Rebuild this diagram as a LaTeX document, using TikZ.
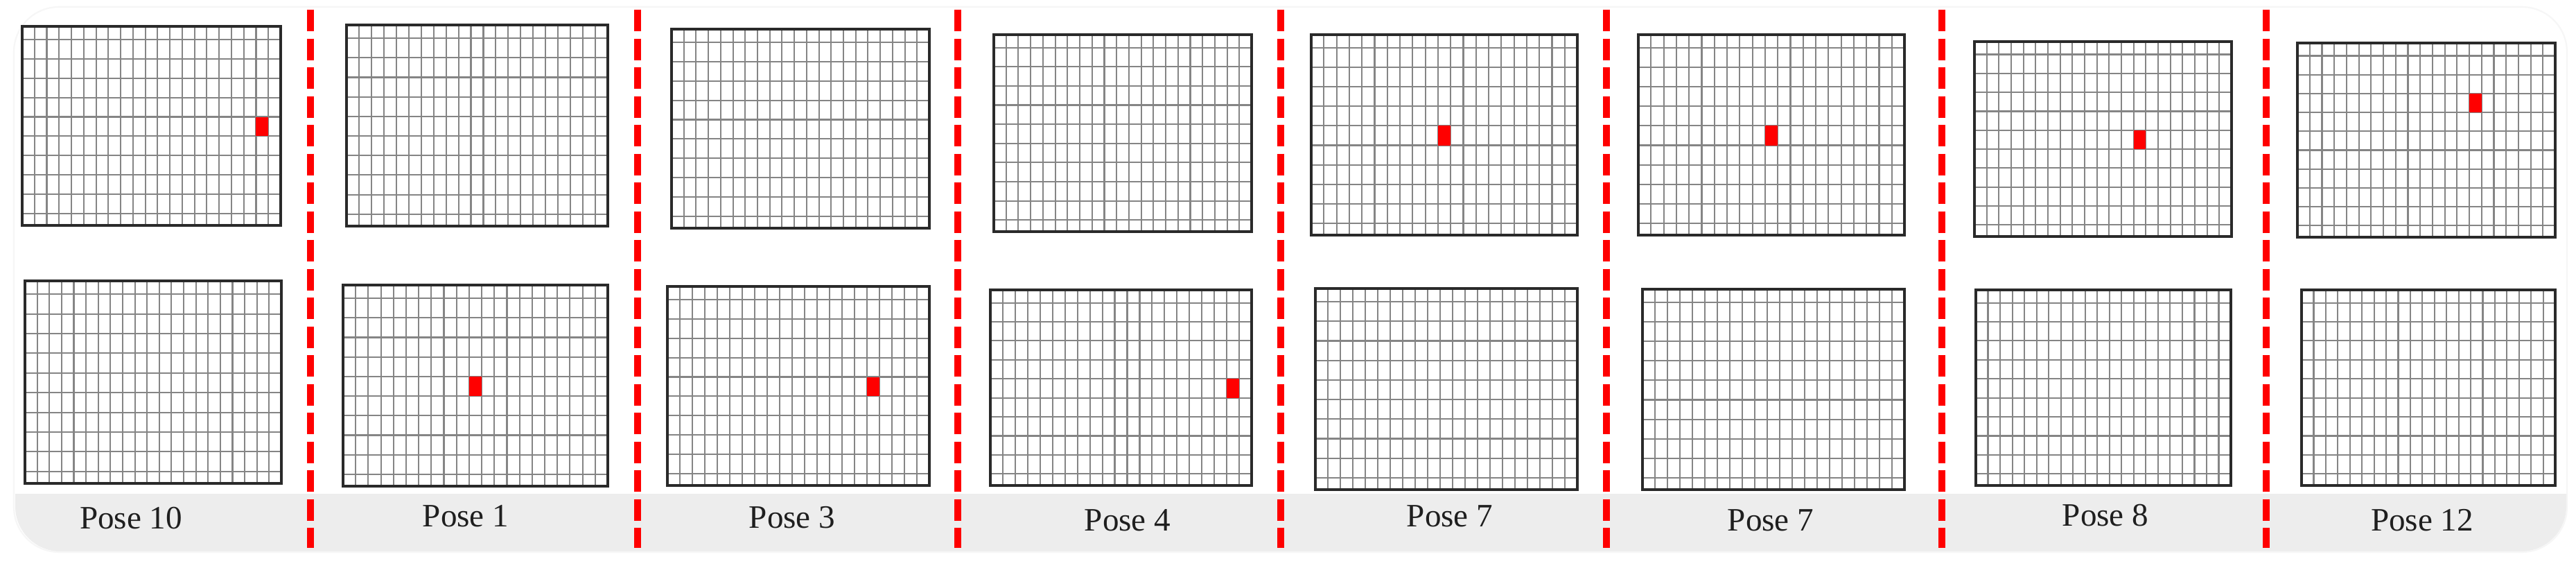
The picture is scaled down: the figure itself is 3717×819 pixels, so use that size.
\documentclass[tikz,border=0pt]{standalone}
\usepackage{fontspec}
\setmainfont{Liberation Serif}
\usetikzlibrary{fit}
\definecolor{bandgray}{HTML}{EDEDED}
\definecolor{gridgray}{HTML}{858585}
\definecolor{framegray}{HTML}{2A2A2A}
\definecolor{redcell}{HTML}{FF0000}
\definecolor{outergray}{HTML}{F6F6F6}
\tikzset{
  gridline/.style={draw=gridgray, line width=0.6pt},
  gridframe/.style={draw=framegray, line width=0.95pt, rectangle, inner sep=0pt},
  cellmark/.style={fill=redcell, draw=none},
  sepline/.style={draw=redcell, line width=2.8pt, dash pattern=on 0.31cm off 0.105cm},
  poselabel/.style={anchor=base, font=\fontsize{13.4}{15}\selectfont, text=black!88, inner sep=0pt},
}
% #1 name, #2 x1, #3 y1, #4 x2, #5 y2
\newcommand\posegrid[5]{%
  \pgfmathsetmacro\gw{(#4-#2)/21}%
  \pgfmathsetmacro\gh{#5-#3}%
  \foreach \k in {1,...,20}{\draw[gridline] ({#2+\k*\gw},#3) -- ({#2+\k*\gw},#5);}%
  \foreach \k in {0,...,9}{\draw[gridline] (#2,{#3+\gh*(0.066+\k*0.0972)}) -- (#4,{#3+\gh*(0.066+\k*0.0972)});}%
  \coordinate (#1-nw) at (#2,#3);
  \coordinate (#1-se) at (#4,#5);
}
% #1 x1, #2 y1, #3 x2, #4 y2, #5 column, #6 row
\newcommand\redmark[6]{%
  \pgfmathsetmacro\gw{(#3-#1)/21}%
  \pgfmathsetmacro\gh{#4-#2}%
  \pgfmathsetmacro\ry{#2+\gh*(0.066+(#6-1)*0.0972)}%
  \pgfmathsetmacro\rh{\gh*0.0972}%
  \fill[cellmark] ({#1+#5*\gw},\ry) rectangle ({#1+(#5+1)*\gw},{\ry+\rh});
}
\newcommand\gridframebox[1]{%
  \node[gridframe, fit=(#1-nw)(#1-se)] (#1) {};
}
\begin{document}
\begin{tikzpicture}[x=0.01cm, y=-0.01cm]
\useasboundingbox (0,0) rectangle (3717,819);
\fill[white] (0,0) rectangle (3717,819);
% faint outer panel
\draw[outergray, line width=0.6pt, rounded corners=0.65cm] (20,10) rectangle (3704,796);
% bottom label band
\begin{scope}
  \clip (0,713) rectangle (3717,819);
  \fill[bandgray, rounded corners=0.65cm] (22,600) rectangle (3703,795);
\end{scope}

% grids
\posegrid{g1t}{32}{38}{405}{325}
\posegrid{g1b}{36}{405}{406}{697}
\posegrid{g2t}{500}{36}{877}{326}
\posegrid{g2b}{495}{411}{877}{701}
\posegrid{g3t}{969}{42}{1341}{329}
\posegrid{g3b}{963}{413}{1341}{700}
\posegrid{g4t}{1434}{50}{1806}{334}
\posegrid{g4b}{1429}{418}{1806}{700}
\posegrid{g5t}{1892}{50}{2276}{339}
\posegrid{g5b}{1898}{416}{2276}{706}
\posegrid{g6t}{2364}{50}{2748}{339}
\posegrid{g6b}{2370}{417}{2748}{706}
\posegrid{g7t}{2849}{60}{3220}{341}
\posegrid{g7b}{2851}{418}{3219}{700}
\posegrid{g8t}{3315}{62}{3687}{342}
\posegrid{g8b}{3321}{418}{3687}{700}

% red cells
\redmark{32}{38}{405}{325}{19}{5}
\redmark{495}{411}{877}{701}{10}{5}
\redmark{963}{413}{1341}{700}{16}{5}
\redmark{1429}{418}{1806}{700}{19}{5}
\redmark{1892}{50}{2276}{339}{10}{5}
\redmark{2364}{50}{2748}{339}{10}{5}
\redmark{2849}{60}{3220}{341}{13}{5}
\redmark{3315}{62}{3687}{342}{14}{3}

% frames
\foreach \g in {g1t,g1b,g2t,g2b,g3t,g3b,g4t,g4b,g5t,g5b,g6t,g6b,g7t,g7b,g8t,g8b}{\gridframebox{\g}}

% separators
\foreach \i/\x in {1/448,2/920,3/1382,4/1848,5/2318,6/2802,7/3270}{
  \coordinate (s\i t) at (\x,14);
  \coordinate (s\i b) at (\x,790);
  \draw[sepline] (s\i t) -- (s\i b);
}

% labels
\node[poselabel] (l1) at (189,763) {Pose 10};
\node[poselabel] (l2) at (672,760) {Pose 1};
\node[poselabel] (l3) at (1143,762) {Pose 3};
\node[poselabel] (l4) at (1627,766) {Pose 4};
\node[poselabel] (l5) at (2092,760) {Pose 7};
\node[poselabel] (l6) at (2555,766) {Pose 7};
\node[poselabel] (l7) at (3038,759) {Pose 8};
\node[poselabel] (l8) at (3495,766) {Pose 12};
\end{tikzpicture}
\end{document}
